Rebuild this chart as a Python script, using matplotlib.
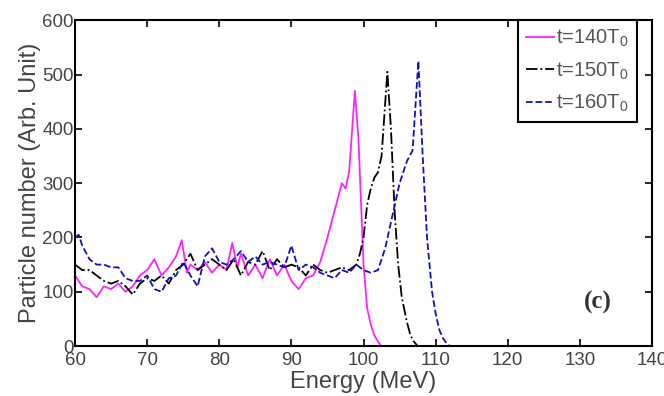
import matplotlib
matplotlib.use("Agg")
import matplotlib.pyplot as plt

# t = 140 T0
mag_x = [60, 61, 62, 63, 64, 65, 66, 67, 68, 69, 70, 71, 72, 73, 74, 74.8, 75.5, 76, 77, 78,
         79, 80, 81, 81.8, 82.5, 83, 84, 85, 86, 87, 88, 89, 90, 91, 92, 93, 94, 95, 96, 97,
         97.5, 98, 98.8, 99.3, 100, 100.5, 101, 101.5, 102, 102.5]
mag_y = [130, 110, 105, 90, 110, 105, 115, 100, 110, 130, 140, 160, 130, 145, 165, 195, 135, 150, 140, 155,
         135, 150, 140, 190, 145, 170, 130, 150, 125, 160, 130, 150, 120, 105, 125, 130, 155, 200, 250, 300,
         290, 320, 470, 380, 150, 70, 40, 20, 8, 0]

# t = 150 T0
blk_x = [60, 61, 62, 63, 64, 65, 66, 67, 68, 69, 70, 71, 72, 73, 74, 75, 76, 77, 78, 79,
         80, 81, 82, 83, 84, 85, 86, 87, 88, 89, 90, 91, 92, 93, 94, 95, 96, 97, 98, 99,
         99.5, 100, 100.5, 101, 101.5, 102, 102.5, 103.3, 103.8, 104.3, 104.8, 105.3, 106, 106.5, 107, 107.5]
blk_y = [150, 140, 140, 130, 120, 115, 120, 110, 95, 115, 125, 120, 130, 115, 140, 150, 170, 140, 150, 160,
         150, 140, 160, 130, 155, 150, 175, 140, 160, 145, 150, 145, 130, 150, 140, 135, 140, 145, 140, 150,
         170, 200, 260, 290, 310, 320, 350, 505, 400, 250, 150, 90, 45, 20, 8, 0]

# t = 160 T0
blu_x = [60, 60.5, 61, 62, 63, 64, 65, 66, 67, 68, 69, 70, 71, 72, 73, 74, 75, 76, 77, 78,
         79, 80, 81, 82, 83, 84, 85, 86, 87, 88, 89, 90, 91, 92, 93, 94, 95, 96, 97, 98,
         99, 100, 101, 102, 103, 104, 105, 106, 106.8, 107.6, 108.2, 108.8, 109.5, 110, 110.5, 111, 111.5, 112]
blu_y = [200, 205, 185, 160, 150, 150, 145, 145, 125, 120, 120, 130, 105, 100, 125, 130, 155, 130, 110, 165,
         180, 155, 150, 160, 175, 155, 165, 150, 155, 150, 145, 185, 140, 150, 145, 135, 130, 125, 140, 135,
         150, 140, 135, 140, 180, 240, 300, 340, 360, 525, 350, 200, 100, 60, 30, 15, 5, 0]

labels = ["t=140T$_0$", "t=150T$_0$", "t=160T$_0$"]

plt.rcParams["font.family"] = ["Liberation Sans", "DejaVu Sans"]
plt.rcParams["mathtext.fontset"] = "custom"
plt.rcParams["mathtext.rm"] = "Liberation Sans"

fig = plt.figure(figsize=(6.64, 3.96), dpi=100)
ax = fig.add_axes([0.113, 0.126, 0.869, 0.823])

ax.plot(mag_x, mag_y, color="#ff22ff", lw=1.3, ls="-", label=labels[0])
ax.plot(blk_x, blk_y, color="black", lw=1.3, ls="-.", label=labels[1])
ax.plot(blu_x, blu_y, color="#1010c0", lw=1.3, ls="--", label=labels[2])

ax.set_xlim(60, 140)
ax.set_ylim(0, 600)
ax.set_xticks(range(60, 141, 10))
ax.set_yticks(range(0, 601, 100))
ax.tick_params(direction="in", top=True, right=True, length=5, width=1.2,
               labelsize=13.5, labelcolor="#444444")
ax.tick_params(axis="x", pad=4)
ax.tick_params(axis="y", pad=1)
for s in ax.spines.values():
    s.set_linewidth(1.5)

ax.set_xlabel("Energy (MeV)", fontsize=17, color="#444444", labelpad=2)
ax.set_ylabel("Particle number (Arb. Unit)", fontsize=17, color="#444444", labelpad=1)

ax.text(130.5, 70, "(c)", fontsize=18, fontweight="bold", family="Liberation Serif",
        color="#333333", va="baseline")

leg = ax.legend(loc="upper right", bbox_to_anchor=(637 / 664, 1 - 20 / 396),
                bbox_transform=fig.transFigure, borderaxespad=0,
                fontsize=14.5, handlelength=1.4, handletextpad=0.1, borderpad=0.4,
                fancybox=False, framealpha=1, edgecolor="black", labelspacing=0.55)
leg.get_frame().set_linewidth(1.5)
for t in leg.get_texts():
    t.set_color("#555555")

fig.savefig("out.png", dpi=100)
